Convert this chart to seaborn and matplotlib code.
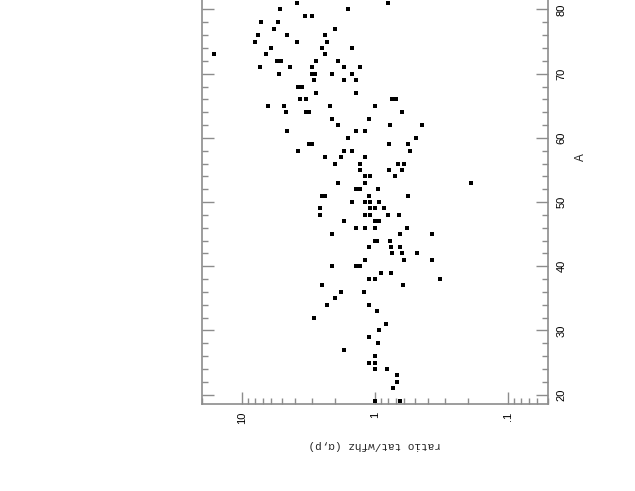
import seaborn as sns
import numpy as np
import pandas as pd
from matplotlib import pyplot as plt
from matplotlib.ticker import FixedLocator, MultipleLocator, LogLocator, NullFormatter

# mass number A and ratio tat/wfhz
mass = [81, 81,
        80, 80,
        79, 79,
        78, 78,
        77, 77,
        76, 76, 76,
        75, 75, 75,
        74, 74, 74,
        73, 73, 73,
        72, 72, 72, 72,
        71, 71, 71, 71, 71,
        70, 70, 70, 70, 70,
        69, 69, 69,
        68, 68,
        67, 67,
        66, 66, 66, 66,
        65, 65, 65, 65,
        64, 64, 64, 64,
        63, 63,
        62, 62, 62,
        61, 61, 61,
        60, 60,
        59, 59, 59, 59,
        58, 58, 58, 58,
        57, 57, 57,
        56, 56, 56, 56,
        55, 55, 55,
        54, 54, 54,
        53, 53, 53,
        52, 52, 52,
        51, 51, 51, 51,
        50, 50, 50, 50,
        49, 49, 49, 49,
        48, 48, 48, 48, 48,
        47, 47, 47,
        46, 46, 46, 46,
        45, 45, 45,
        44, 44, 44,
        43, 43, 43,
        42, 42, 42,
        41, 41, 41,
        40, 40, 40,
        39, 39,
        38, 38, 38,
        37, 37,
        36, 36,
        35,
        34, 34,
        33, 32, 31, 30, 29, 28, 27, 26,
        25, 25,
        24, 24,
        23, 22, 21,
        19, 19]

ratio = [3.88, 0.795,
         5.17, 1.59,
         3.38, 2.98,
         7.21, 5.38,
         5.76, 1.99,
         7.64, 4.58, 2.39,
         7.95, 3.88, 2.29,
         6.00, 2.49, 1.50,
         16.2, 6.54, 2.39,
         5.44, 5.08, 2.78, 1.89,
         7.33, 4.37, 2.98, 1.70, 1.29,
         5.26, 2.99, 2.80, 2.09, 1.50,
         2.88, 1.70, 1.40,
         3.79, 3.56,
         2.78, 1.40,
         3.68, 3.28, 0.746, 0.700,
         6.32, 4.85, 2.18, 0.994,
         4.66, 3.32, 3.13, 0.621,
         2.09, 1.10,
         1.89, 0.768, 0.442,
         4.58, 1.40, 1.195,
         1.59, 0.491,
         3.12, 2.98, 0.790, 0.560,
         3.79, 1.70, 1.50, 0.541,
         2.39, 1.80, 1.195,
         1.99, 1.29, 0.669, 0.610,
         1.29, 0.790, 0.621,
         1.195, 1.09, 0.708,
         1.89, 1.195, 0.190,
         1.39, 1.29, 0.944,
         2.49, 2.38, 1.10, 0.560,
         1.50, 1.195, 1.09, 0.933,
         2.59, 1.09, 0.994, 0.856,
         2.59, 1.195, 1.09, 0.799, 0.658,
         1.70, 1.00, 0.933,
         1.40, 1.195, 0.994, 0.570,
         2.10, 0.650, 0.370,
         1.00, 0.961, 0.772,
         1.10, 0.759, 0.650,
         0.750, 0.628, 0.482,
         1.195, 0.610, 0.370,
         2.10, 1.39, 1.29,
         0.902, 0.759,
         1.10, 1.00, 0.323,
         2.49, 0.614,
         1.80, 1.20,
         2.00,
         2.30, 1.10,
         0.972, 2.89, 0.832, 0.939, 1.10, 0.950, 1.70, 1.00,
         1.10, 1.00,
         1.00, 0.809,
         0.681, 0.681, 0.733,
         1.00, 0.650]

x_ticks = [10, 1, 0.1]
x_tick_labels = ['10', '1', '.1']
a_ticks = [20, 30, 40, 50, 60, 70, 80]

df = pd.DataFrame({'A': mass, 'ratio': ratio})

sns.set_style('white')
plt.rcParams['font.family'] = ['Liberation Sans', 'DejaVu Sans']

fig = plt.figure(figsize=(6.35, 4.91), dpi=100)
# the page is turned on its side, the top of the frame runs off the picture
ax = fig.add_axes([0.318, 0.178, 0.545, 1.004])

sns.scatterplot(data=df, x='ratio', y='A', marker='s', color='black',
                s=12, linewidth=0, ax=ax)

ax.set_xscale('log')
ax.set_xlim(20, 0.05)
ax.set_ylim(18.6, 95.4)

ax.xaxis.set_major_locator(FixedLocator(x_ticks))
ax.set_xticklabels(x_tick_labels, rotation=90)
ax.xaxis.set_minor_locator(LogLocator(base=10, subs=np.arange(2, 10)))
ax.xaxis.set_minor_formatter(NullFormatter())

ax.yaxis.set_major_locator(FixedLocator(a_ticks))
ax.yaxis.set_minor_locator(MultipleLocator(2))
ax.yaxis.tick_right()
ax.yaxis.set_label_position('right')
for lab in ax.get_yticklabels():
    lab.set_rotation(90)
    lab.set_va('center')

grey = '#8c8c8c'
for sp in ax.spines.values():
    sp.set_color(grey)
    sp.set_linewidth(1.2)

ax.tick_params(which='both', direction='in', top=True, bottom=True,
               left=True, right=True, color=grey, width=1.0,
               labelsize=8, labelcolor='black')
ax.tick_params(which='major', length=8.4, pad=6)
ax.tick_params(which='minor', length=4.1)

ax.set_xlabel('ratio tat/wfhz (\u03b1,p)', rotation=180, fontsize=8,
              family=['Liberation Mono', 'DejaVu Sans Mono'], labelpad=11)
ax.set_ylabel('A', rotation=90, fontsize=8.5, labelpad=6)

fig.savefig('out.png', dpi=100)
